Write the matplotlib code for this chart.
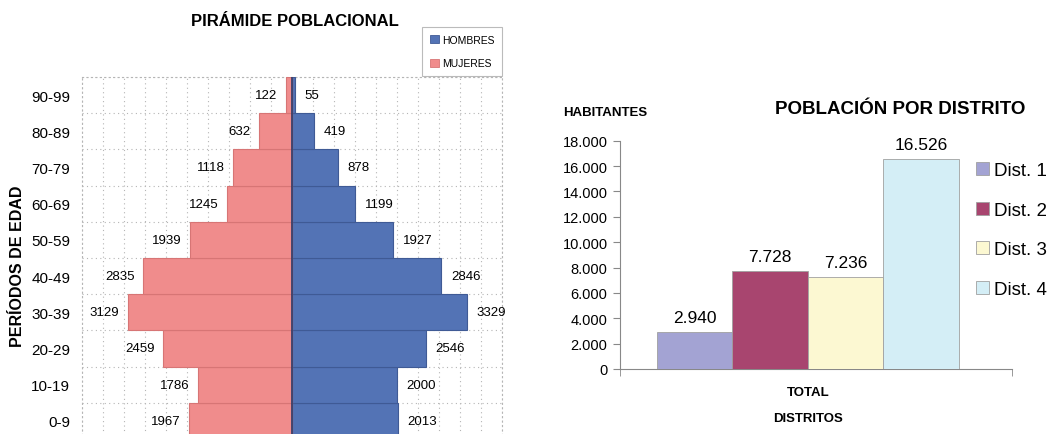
import numpy as np
import matplotlib
matplotlib.use("Agg")
import matplotlib.pyplot as plt
from matplotlib.patches import Patch

plt.rcParams['font.family'] = ['Liberation Sans', 'DejaVu Sans']

# ---- Data ----
age_groups = ["0-9", "10-19", "20-29", "30-39", "40-49", "50-59",
              "60-69", "70-79", "80-89", "90-99"]
hombres = [2013, 2000, 2546, 3329, 2846, 1927, 1199, 878, 419, 55]
mujeres = [1967, 1786, 2459, 3129, 2835, 1939, 1245, 1118, 632, 122]

districts = ["Dist. 1", "Dist. 2", "Dist. 3", "Dist. 4"]
habitantes = [2940, 7728, 7236, 16526]
category = ["TOTAL"]

# ---- Styles ----
c_men = "#5373B5"
c_women = "#F08C8C"
dist_colors = ["#A3A3D3", "#A8456F", "#FCF8D2", "#D4EEF6"]

W, H = 1048, 435
fig = plt.figure(figsize=(W / 100, H / 100), dpi=100)

def fx(px):
    return px / W

def fy(py):
    return 1 - py / H

# ================= Pyramid =================
ax1 = fig.add_axes([fx(82), fy(440), fx(502) - fx(82), fy(78) - fy(440)])
ypos = np.arange(len(age_groups))
ax1.barh(ypos, hombres, height=1.0, color=c_men, edgecolor="#3F5A95", linewidth=0.8, zorder=3)
ax1.barh(ypos, [-v for v in mujeres], height=1.0, color=c_women, edgecolor="#D77575", linewidth=0.8, zorder=3)
ax1.axvline(0, color="#2A3A6A", lw=1.2, zorder=4)

ax1.set_xlim(-4000, 4000)
ax1.set_ylim(-0.5, len(age_groups) - 0.5)
ax1.set_xticks(np.arange(-4000, 4001, 400))
ax1.set_xticklabels([])
ax1.tick_params(axis="x", length=0)
ax1.set_yticks(ypos)
ax1.set_yticklabels(age_groups, fontsize=11)
ax1.set_yticks(np.arange(-0.5, len(age_groups), 1.0), minor=True)
ax1.tick_params(axis="y", which="both", length=0, pad=8.5)
ax1.grid(axis="x", which="major", linestyle=(0, (1, 3)), color="#B5B5B5", lw=0.8, zorder=0)
ax1.grid(axis="y", which="minor", linestyle=(0, (1, 3)), color="#B5B5B5", lw=0.8, zorder=0)
for s in ax1.spines.values():
    s.set_linestyle((0, (1, 3)))
    s.set_color("#B5B5B5")
    s.set_linewidth(0.8)

for y, v in zip(ypos, hombres):
    ax1.annotate(str(v), (v, y), xytext=(7, 0), textcoords="offset points",
                 ha="left", va="center", fontsize=9.5, zorder=5)
for y, v in zip(ypos, mujeres):
    ax1.annotate(str(v), (-v, y), xytext=(-6, 0), textcoords="offset points",
                 ha="right", va="center", fontsize=9.5, zorder=5)

fig.text(fx(295), fy(22), "PIRÁMIDE POBLACIONAL", ha="center", va="center",
         fontsize=12, fontweight="bold")
fig.text(fx(18), fy(266), "PERÍODOS DE EDAD", ha="center", va="center",
         rotation=90, fontsize=11.5, fontweight="bold")

leg1 = fig.legend(handles=[Patch(facecolor=c_men, edgecolor="#3F5A95", lw=0.6),
                           Patch(facecolor=c_women, edgecolor="#D77575", lw=0.6)],
                  labels=["HOMBRES", "MUJERES"],
                  loc="upper right", bbox_to_anchor=(fx(502), fy(28)),
                  fontsize=7.5, frameon=True, fancybox=False,
                  handlelength=0.8, handleheight=0.8, handletextpad=0.3,
                  labelspacing=1.3, borderpad=0.75, borderaxespad=0)
leg1.get_frame().set_edgecolor("#AAAAAA")
leg1.get_frame().set_linewidth(0.8)

# ================= District bars =================
ax2 = fig.add_axes([fx(620), fy(370), fx(1012) - fx(620), fy(141.7) - fy(370)])
n = len(districts)
w = 0.77 / n
xs = np.arange(len(category))
for i, (d, v, c) in enumerate(zip(districts, habitantes, dist_colors)):
    xb = xs[0] + (i - (n - 1) / 2) * w
    ax2.bar(xb, v, width=w, color=c, edgecolor="#A0A0A0", linewidth=0.6, label=d, zorder=3)
    ax2.annotate(f"{v:,}".replace(",", "."), (xb, v), xytext=(0, 5),
                 textcoords="offset points", ha="center", va="bottom", fontsize=12.5)

ax2.set_xlim(-0.479, 0.521)
ax2.set_ylim(0, 18000)
ax2.set_yticks(np.arange(0, 18001, 2000))
ax2.set_yticklabels([f"{int(t):,}".replace(",", ".") for t in np.arange(0, 18001, 2000)],
                    fontsize=10.5)
ax2.tick_params(axis="y", length=5, color="#888888", pad=4)
ax2.set_xticks(xs)
ax2.set_xticklabels(category, fontsize=9.5, fontweight="bold")
ax2.tick_params(axis="x", which="major", length=0, pad=12.5)
ax2.set_xticks([-0.479, 0.521], minor=True)
ax2.tick_params(axis="x", which="minor", length=5, color="#888888")
for k in ["top", "right"]:
    ax2.spines[k].set_visible(False)
for k in ["left", "bottom"]:
    ax2.spines[k].set_color("#888888")
    ax2.spines[k].set_linewidth(0.8)

fig.text(fx(808), fy(419), "DISTRITOS", ha="center", va="center",
         fontsize=9.5, fontweight="bold")
fig.text(fx(563), fy(113), "HABITANTES", ha="left", va="center",
         fontsize=9.5, fontweight="bold")
fig.text(fx(900), fy(109), "POBLACIÓN POR DISTRITO", ha="center", va="center",
         fontsize=13.5, fontweight="bold")

h, l = ax2.get_legend_handles_labels()
fig.legend(h, l, loc="upper left", bbox_to_anchor=(fx(976), fy(163)),
           frameon=False, fontsize=13.5, handlelength=0.7, handleheight=0.7,
           handletextpad=0.25, labelspacing=1.2, borderaxespad=0, borderpad=0)

fig.savefig("out.png", dpi=100)
